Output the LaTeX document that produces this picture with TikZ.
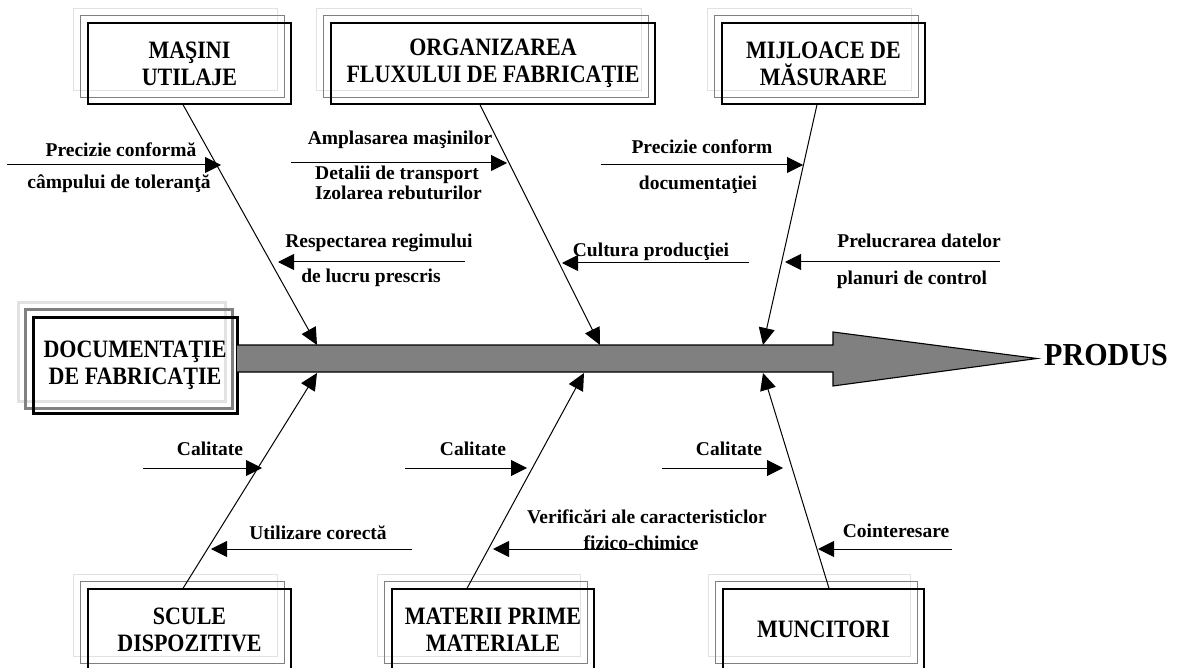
\documentclass[tikz,border=0pt]{standalone}
\usepackage{fontspec}
\setmainfont{Liberation Serif}
\newfontfamily\tallserif[FakeStretch=0.88]{Liberation Serif}
\newfontfamily\prodserif[FakeStretch=0.94]{Liberation Serif}
\usetikzlibrary{arrows.meta,backgrounds}
\definecolor{midgray}{HTML}{808080}
\definecolor{palegray}{HTML}{E2E2E2}
\begin{document}
\begin{tikzpicture}[x=1pt,y=-1pt,
  boxtext/.style={font=\tallserif\fontsize{25}{27}\selectfont\bfseries, align=center},
  fbox/.style={draw=black, line width=1.3pt, inner sep=0pt, minimum height=81pt, boxtext},
  lab/.style={font=\fontsize{19.5}{20}\selectfont\bfseries, anchor=base, inner sep=0pt},
  bone/.style={line width=1pt, -{Triangle[length=17pt,width=16pt]}},
  twig/.style={line width=1pt, -{Triangle[length=16pt,width=16pt]}},
  shade1/.style={draw=midgray, line width=1.3pt},
  shade2/.style={draw=palegray, line width=1.3pt},
]
\useasboundingbox (0,0) rectangle (1183,668);
\clip (0,0) rectangle (1183,668);

% ---------- boxes ----------
\node[fbox, minimum width=203pt] (masini) at (189.5,63.5) {MAŞINI\\UTILAJE};
\node[fbox, minimum width=324pt] (org) at (493,63.5) {ORGANIZAREA\\FLUXULUI DE FABRICAŢIE};
\node[fbox, minimum width=203pt] (mijl) at (823.5,63.5) {MIJLOACE DE\\MĂSURARE};
\node[fbox, minimum width=203pt] (scule) at (189.5,629.5) {SCULE\\DISPOZITIVE};
\node[fbox, minimum width=202pt] (mat) at (493,629.5) {MATERII PRIME\\MATERIALE};
\node[fbox, minimum width=201pt] (munc) at (823.5,629.5) {MUNCITORI};
\node[fbox, line width=3pt, minimum width=204pt, minimum height=96pt] (doc) at (135,365) {DOCUMENTAŢIE\\ DE FABRICAŢIE};

\begin{scope}[on background layer]
  \foreach \n in {masini,org,mijl,scule,mat,munc}{
    \draw[shade2] ([shift={(-14,-14)}]\n.north west) rectangle ([shift={(-14,-14)}]\n.south east);
    \draw[shade1] ([shift={(-7,-7)}]\n.north west) rectangle ([shift={(-7,-7)}]\n.south east);
  }
  \draw[shade2, line width=2.5pt] ([shift={(-13,-13)}]doc.north west) rectangle ([shift={(-13,-13)}]doc.south east);
  \draw[shade1, line width=3pt] ([shift={(-6,-6)}]doc.north west) rectangle ([shift={(-6,-6)}]doc.south east);
\end{scope}

% ---------- spine ----------
\draw[fill=midgray, line width=1.1pt] (237,345) -- (833,345) -- (833,332) -- (1037,358.5)
  -- (833,386) -- (833,372) -- (237,372);
\node[font=\prodserif\fontsize{32}{34}\selectfont\bfseries, anchor=base west, inner sep=0pt] (produs) at (1044,365) {PRODUS};

% ---------- bones ----------
\coordinate (sA) at ([xshift=-6.5pt]masini.south);
\coordinate (tA) at (317,345);
\coordinate (sB) at ([xshift=-13pt]org.south);
\coordinate (tB) at (600,345);
\coordinate (sC) at ([xshift=-6.5pt]mijl.south);
\coordinate (tC) at (763,345);
\coordinate (sD) at ([xshift=-6.5pt]scule.north);
\coordinate (tD) at (317,373);
\coordinate (sE) at ([xshift=-26pt]mat.north);
\coordinate (tE) at (584,373);
\coordinate (sF) at ([xshift=5.5pt]munc.north);
\coordinate (tF) at (763,373);
\foreach \b in {A,B,C,D,E,F}{\draw[bone] (s\b) -- (t\b);}

% ---------- twigs ----------
\coordinate (a1s) at (7,165);   \coordinate (a1e) at (221,165);
\coordinate (a2s) at (465,262); \coordinate (a2e) at (278,262);
\coordinate (b1s) at (291,163); \coordinate (b1e) at (507,163);
\coordinate (b2s) at (749,263); \coordinate (b2e) at (562,263);
\coordinate (c1s) at (601,165); \coordinate (c1e) at (803,165);
\coordinate (c2s) at (1000,262);\coordinate (c2e) at (785,262);
\coordinate (d1s) at (143,468); \coordinate (d1e) at (262,468);
\coordinate (d2s) at (412,549); \coordinate (d2e) at (211,549);
\coordinate (e1s) at (405,468); \coordinate (e1e) at (527,468);
\coordinate (e2s) at (695,549); \coordinate (e2e) at (493,549);
\coordinate (f1s) at (662,468); \coordinate (f1e) at (783,468);
\coordinate (f2s) at (952,549); \coordinate (f2e) at (818,549);
\foreach \t in {a1,a2,b1,b2,c1,c2,d1,d2,e1,e2,f1,f2}{\draw[twig] (\t s) -- (\t e);}

% ---------- labels ----------
\node[lab] (la1) at (121,157) {Precizie conformă};
\node[lab] (la1b) at (119,189) {câmpului de toleranţă};
\node[lab] (la2) at (379,248) {Respectarea regimului};
\node[lab] (la2b) at (371,283) {de lucru prescris};
\node[lab] (lb1) at (400,145) {Amplasarea maşinilor};
\node[lab, anchor=base west] (lb1b) at (315,180) {Detalii de transport};
\node[lab, anchor=base west] (lb1c) at (315,200) {Izolarea rebuturilor};
\node[lab] (lb2) at (651,257) {Cultura producţiei};
\node[lab] (lc1) at (702,154) {Precizie conform};
\node[lab] (lc1b) at (698,190) {documentaţiei};
\node[lab] (lc2) at (919,248) {Prelucrarea datelor};
\node[lab] (lc2b) at (912,284) {planuri de control};
\node[lab] (ld1) at (210,455) {Calitate};
\node[lab] (ld2) at (318,539) {Utilizare corectă};
\node[lab] (le1) at (473,455) {Calitate};
\node[lab] (le2) at (647,523) {Verificări ale caracteristiclor};
\node[lab] (le2b) at (641,549) {fizico-chimice};
\node[lab] (lf1) at (729,455) {Calitate};
\node[lab] (lf2) at (896,537) {Cointeresare};
\end{tikzpicture}
\end{document}
